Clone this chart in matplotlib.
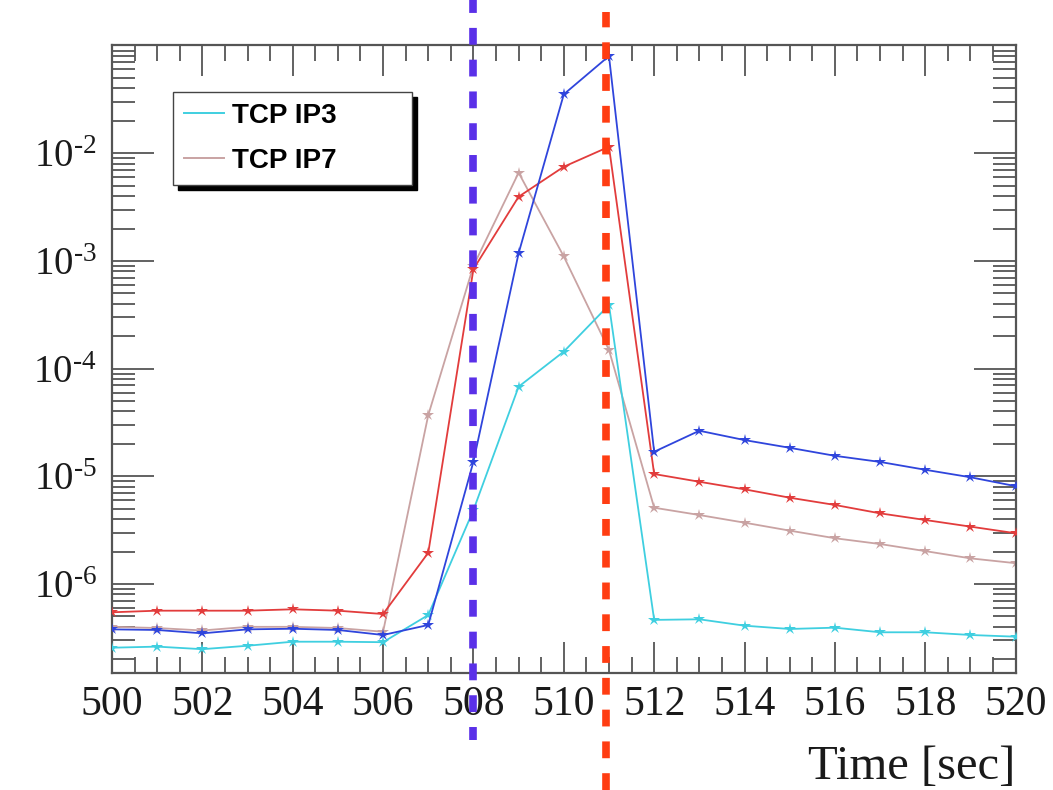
import numpy as np
import matplotlib
matplotlib.use("Agg")
import matplotlib.pyplot as plt
from matplotlib.lines import Line2D
from matplotlib.patches import Rectangle
from matplotlib.ticker import LogLocator, FixedLocator, FixedFormatter, MultipleLocator, NullFormatter

plt.rcParams['font.family'] = ['Liberation Serif', 'DejaVu Serif']
plt.rcParams['mathtext.fontset'] = 'custom'
plt.rcParams['mathtext.rm'] = 'Liberation Serif'
plt.rcParams['mathtext.it'] = 'Liberation Serif:italic'

# time axis [sec]
t = np.arange(500, 521)

# loss signals
tcp_ip3 = [2.56e-7, 2.62e-7, 2.48e-7, 2.67e-7, 2.91e-7, 2.91e-7, 2.88e-7, 5.15e-7,
           4.86e-6, 6.8e-5, 1.44e-4, 3.9e-4, 4.64e-7, 4.7e-7, 4.1e-7, 3.82e-7,
           3.93e-7, 3.56e-7, 3.56e-7, 3.36e-7, 3.24e-7]
tcp_ip7 = [4.0e-7, 3.9e-7, 3.7e-7, 4.0e-7, 4.0e-7, 3.9e-7, 3.6e-7, 3.7e-5,
           9.0e-4, 6.6e-3, 1.1e-3, 1.49e-4, 5.11e-6, 4.37e-6, 3.71e-6, 3.13e-6,
           2.66e-6, 2.35e-6, 2.02e-6, 1.73e-6, 1.56e-6]
blue_sig = [3.79e-7, 3.74e-7, 3.48e-7, 3.79e-7, 3.84e-7, 3.74e-7, 3.36e-7, 4.16e-7,
            1.37e-5, 1.18e-3, 3.53e-2, 8.0e-2, 1.69e-5, 2.65e-5, 2.17e-5, 1.84e-5,
            1.55e-5, 1.36e-5, 1.15e-5, 9.8e-6, 8.1e-6]
red_sig = [5.46e-7, 5.65e-7, 5.65e-7, 5.65e-7, 5.82e-7, 5.65e-7, 5.26e-7, 1.95e-6,
           8.4e-4, 3.95e-3, 7.5e-3, 1.15e-2, 1.05e-5, 8.9e-6, 7.57e-6, 6.33e-6,
           5.42e-6, 4.53e-6, 3.93e-6, 3.41e-6, 2.96e-6]

y_ticks = [1e-6, 1e-5, 1e-4, 1e-3, 1e-2]
y_ticklabels = ['$10^{\u2010' + str(k) + '}$' for k in (6, 5, 4, 3, 2)]

# marker lines
t_marks = [508.0, 510.93]
mark_colors = ['#5a30e8', '#ff3d12']

c_ip3 = '#3fcfe0'
c_ip7 = '#c9a3a3'
c_blue = '#2f45dc'
c_red = '#e23c3c'

fig = plt.figure(figsize=(10.53, 7.90), dpi=100)
ax = fig.add_axes([112/1053, 1 - 672.7/790, 903.6/1053, 627.7/790])

kw = dict(lw=1.3, marker='*', ms=9, mew=0)
ax.plot(t, tcp_ip7, color=c_ip7, zorder=2, **kw)
ax.plot(t, tcp_ip3, color=c_ip3, zorder=3, **kw)
ax.plot(t, red_sig, color=c_red, zorder=4, **kw)
ax.plot(t, blue_sig, color=c_blue, zorder=5, **kw)

ax.set_yscale('log')
ax.set_xlim(500, 520)
ax.set_ylim(1.5e-7, 0.1013)

ax.xaxis.set_major_locator(MultipleLocator(2))
ax.xaxis.set_minor_locator(MultipleLocator(0.5))
ax.yaxis.set_major_locator(FixedLocator(y_ticks))
ax.yaxis.set_major_formatter(FixedFormatter(y_ticklabels))
ax.yaxis.set_minor_locator(LogLocator(base=10, subs=np.arange(2, 10), numticks=50))
ax.yaxis.set_minor_formatter(NullFormatter())

ax.tick_params(axis='both', which='both', direction='in', top=True, right=True,
               color='#555555', width=1.3, labelcolor='#1a1a1a')
ax.tick_params(axis='x', which='major', length=22, pad=9, labelsize=30)
ax.tick_params(axis='x', which='minor', length=11.5)
ax.tick_params(axis='y', which='major', length=30, pad=11, labelsize=28)
ax.tick_params(axis='y', which='minor', length=16.5)
for s in ax.spines.values():
    s.set_linewidth(1.6)
    s.set_color('#555555')

ax.set_xlabel('Time [sec]', loc='right', fontsize=35, color='#1a1a1a', labelpad=15)

# dashed markers running past the frame
for tm, col, y0, y1, off in zip(t_marks, mark_colors, [-0.107, -0.187], [1.072, 1.053], [0.5, 0.0]):
    ax.axvline(tm, ymin=y0, ymax=y1, color=col, lw=5.5, ls=(off, (2.2, 1.96)),
               clip_on=False, zorder=10)

handles = [Line2D([], [], color=c_ip3, lw=1.4), Line2D([], [], color=c_ip7, lw=1.4)]
leg = ax.legend(handles, ['TCP IP3', 'TCP IP7'], loc='upper left',
                bbox_to_anchor=(0.0672, 0.49, 0.2645, 0.4356), mode='expand',
                borderaxespad=0, fancybox=False, edgecolor='#444444',
                framealpha=1, handlelength=1.45, handletextpad=0.3,
                labelspacing=0.68, borderpad=0.4,
                prop={'family': 'Liberation Sans', 'weight': 'bold', 'size': 20})
leg.get_frame().set_linewidth(1.0)
leg.set_zorder(6)

# black drop shadow behind the legend box
fig.canvas.draw()
bb = leg.get_window_extent().transformed(fig.transFigure.inverted())
dx, dy = 5 / 1053, 5 / 790
fig.patches.append(Rectangle((bb.x0 + dx, bb.y0 - dy), bb.width, bb.height,
                             transform=fig.transFigure, color='black', zorder=1))
ax.set_zorder(2)
ax.patch.set_alpha(0)
fig.patch.set_facecolor('white')

fig.savefig('out.png', dpi=100, facecolor='white')
